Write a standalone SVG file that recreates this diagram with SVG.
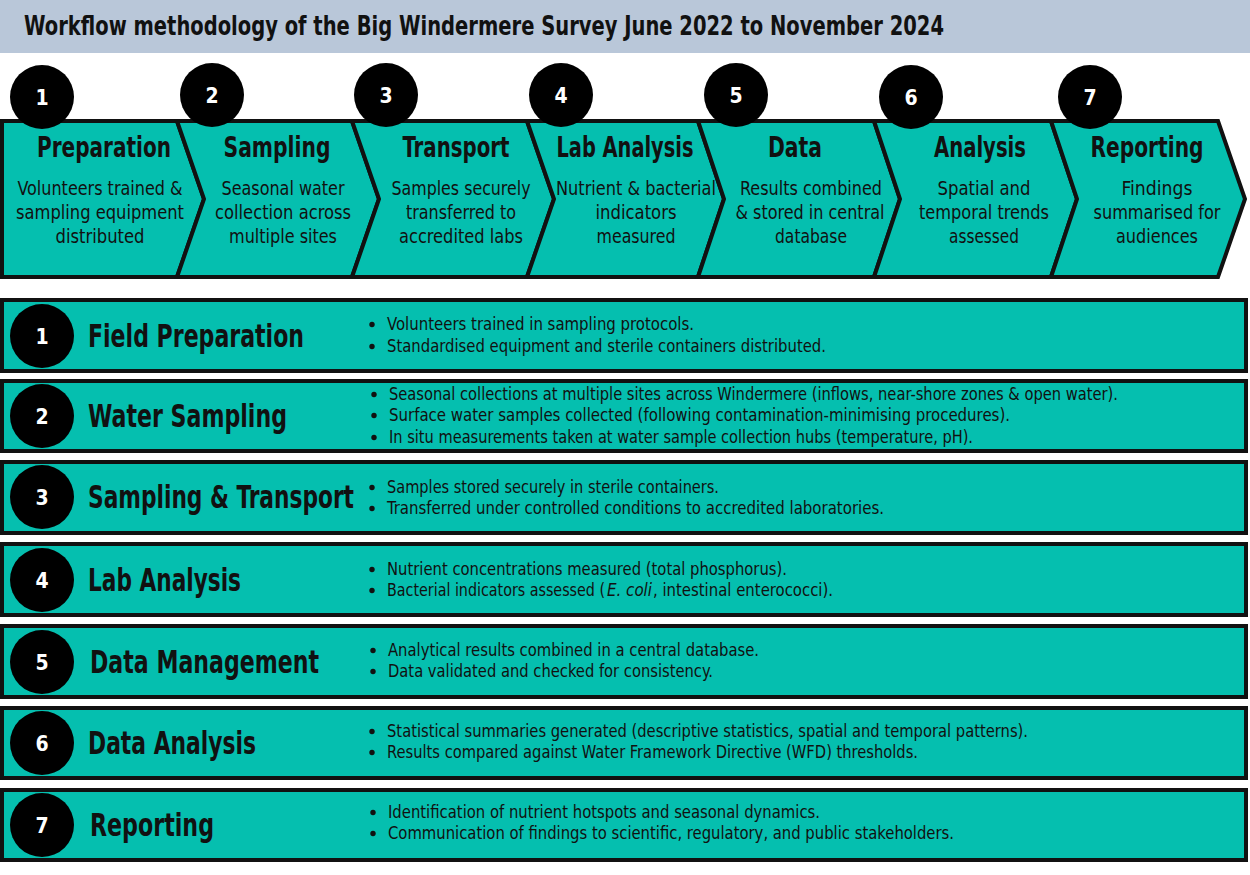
<svg xmlns="http://www.w3.org/2000/svg" width="1250" height="875" viewBox="0 0 1250 875">
<style>
text{font-family:"Liberation Sans Narrow","DejaVu Sans Condensed","Liberation Sans",sans-serif;fill:#111;}
.title{font-size:26px;font-weight:bold;}
.chev{fill:#05bfaf;stroke:#111;stroke-width:4;stroke-linejoin:miter;}
.ct{font-size:29px;font-weight:bold;text-anchor:middle;}
.cd{font-size:19.5px;text-anchor:middle;}
.num{fill:#fff;font-size:21px;font-weight:bold;text-anchor:middle;}
.row{fill:#05bfaf;stroke:#111;stroke-width:4;}
.rt{font-size:32px;font-weight:bold;}
.bl{font-size:17.5px;}
.it{font-style:italic;}
.circ{fill:#000;}
.dot{fill:#111;}
</style>
<rect x="0" y="0" width="1250" height="53" fill="#b9c7d9"/>
<text class="title" x="24" y="35" textLength="920" lengthAdjust="spacingAndGlyphs">Workflow methodology of the Big Windermere Survey June 2022 to November 2024</text>

<g id="chevrons">
<g id="step1">
<polygon class="chev" points="2,121 177,121 204,199 177,277 2,277"/>
<circle class="circ" cx="42" cy="97" r="32"/>
<text class="num" x="42" y="105">1</text>
<text class="ct" x="104" y="157" textLength="134" lengthAdjust="spacingAndGlyphs">Preparation</text>
<text class="cd" x="100" y="195" textLength="165" lengthAdjust="spacingAndGlyphs">Volunteers trained &amp;</text>
<text class="cd" x="100" y="219" textLength="168" lengthAdjust="spacingAndGlyphs">sampling equipment</text>
<text class="cd" x="100" y="243" textLength="89" lengthAdjust="spacingAndGlyphs">distributed</text>
</g>
<g id="step2">
<polygon class="chev" points="177,121 352,121 379,199 352,277 177,277 204,199"/>
<circle class="circ" cx="212" cy="95" r="32"/>
<text class="num" x="212" y="103">2</text>
<text class="ct" x="277" y="157" textLength="107" lengthAdjust="spacingAndGlyphs">Sampling</text>
<text class="cd" x="283" y="195" textLength="123" lengthAdjust="spacingAndGlyphs">Seasonal water</text>
<text class="cd" x="283" y="219" textLength="136" lengthAdjust="spacingAndGlyphs">collection across</text>
<text class="cd" x="283" y="243" textLength="108" lengthAdjust="spacingAndGlyphs">multiple sites</text>
</g>
<g id="step3">
<polygon class="chev" points="352,121 527,121 554,199 527,277 352,277 379,199"/>
<circle class="circ" cx="386" cy="95" r="32"/>
<text class="num" x="386" y="103">3</text>
<text class="ct" x="456" y="157" textLength="107" lengthAdjust="spacingAndGlyphs">Transport</text>
<text class="cd" x="461" y="195" textLength="139" lengthAdjust="spacingAndGlyphs">Samples securely</text>
<text class="cd" x="461" y="219" textLength="110" lengthAdjust="spacingAndGlyphs">transferred to</text>
<text class="cd" x="461" y="243" textLength="124" lengthAdjust="spacingAndGlyphs">accredited labs</text>
</g>
<g id="step4">
<polygon class="chev" points="527,121 698,121 724,199 698,277 527,277 554,199"/>
<circle class="circ" cx="561" cy="95" r="32"/>
<text class="num" x="561" y="103">4</text>
<text class="ct" x="625" y="157" textLength="137" lengthAdjust="spacingAndGlyphs">Lab Analysis</text>
<text class="cd" x="636" y="195" textLength="160" lengthAdjust="spacingAndGlyphs">Nutrient &amp; bacterial</text>
<text class="cd" x="636" y="219" textLength="81" lengthAdjust="spacingAndGlyphs">indicators</text>
<text class="cd" x="636" y="243" textLength="79" lengthAdjust="spacingAndGlyphs">measured</text>
</g>
<g id="step5">
<polygon class="chev" points="698,121 874,121 900,199 874,277 698,277 724,199"/>
<circle class="circ" cx="736" cy="95" r="32"/>
<text class="num" x="736" y="103">5</text>
<text class="ct" x="795" y="157" textLength="54" lengthAdjust="spacingAndGlyphs">Data</text>
<text class="cd" x="811" y="195" textLength="142" lengthAdjust="spacingAndGlyphs">Results combined</text>
<text class="cd" x="810" y="219" textLength="149" lengthAdjust="spacingAndGlyphs">&amp; stored in central</text>
<text class="cd" x="811" y="243" textLength="72" lengthAdjust="spacingAndGlyphs">database</text>
</g>
<g id="step6">
<polygon class="chev" points="874,121 1051,121 1077,199 1051,277 874,277 900,199"/>
<circle class="circ" cx="911" cy="97" r="32"/>
<text class="num" x="911" y="105">6</text>
<text class="ct" x="980" y="157" textLength="92" lengthAdjust="spacingAndGlyphs">Analysis</text>
<text class="cd" x="984" y="195" textLength="93" lengthAdjust="spacingAndGlyphs">Spatial and</text>
<text class="cd" x="984" y="219" textLength="130" lengthAdjust="spacingAndGlyphs">temporal trends</text>
<text class="cd" x="984" y="243" textLength="70" lengthAdjust="spacingAndGlyphs">assessed</text>
</g>
<g id="step7">
<polygon class="chev" points="1051,121 1218,121 1245,199 1218,277 1051,277 1077,199"/>
<circle class="circ" cx="1090" cy="97" r="32"/>
<text class="num" x="1090" y="105">7</text>
<text class="ct" x="1147" y="157" textLength="113" lengthAdjust="spacingAndGlyphs">Reporting</text>
<text class="cd" x="1157" y="195" textLength="71" lengthAdjust="spacingAndGlyphs">Findings</text>
<text class="cd" x="1157" y="219" textLength="127" lengthAdjust="spacingAndGlyphs">summarised for</text>
<text class="cd" x="1157" y="243" textLength="82" lengthAdjust="spacingAndGlyphs">audiences</text>
</g>
</g>

<g id="rows">
<g id="row1">
<rect class="row" x="2" y="300" width="1244" height="71"/>
<circle class="circ" cx="42" cy="336" r="32"/>
<text class="num" x="42" y="344">1</text>
<text class="rt" x="88" y="347" textLength="216" lengthAdjust="spacingAndGlyphs">Field Preparation</text>
<circle class="dot" cx="372" cy="324.5" r="2.7"/><text class="bl" x="387" y="330" textLength="307" lengthAdjust="spacingAndGlyphs">Volunteers trained in sampling protocols.</text>
<circle class="dot" cx="372" cy="346.5" r="2.7"/><text class="bl" x="387" y="352" textLength="439" lengthAdjust="spacingAndGlyphs">Standardised equipment and sterile containers distributed.</text>
</g>
<g id="row2">
<rect class="row" x="2" y="381" width="1244" height="70"/>
<circle class="circ" cx="42" cy="416" r="32"/>
<text class="num" x="42" y="424">2</text>
<text class="rt" x="88" y="427" textLength="199" lengthAdjust="spacingAndGlyphs">Water Sampling</text>
<circle class="dot" cx="374" cy="394.5" r="2.7"/><text class="bl" x="389" y="400" textLength="729" lengthAdjust="spacingAndGlyphs">Seasonal collections at multiple sites across Windermere (inflows, near-shore zones &amp; open water).</text>
<circle class="dot" cx="374" cy="415.5" r="2.7"/><text class="bl" x="389" y="421" textLength="621" lengthAdjust="spacingAndGlyphs">Surface water samples collected (following contamination-minimising procedures).</text>
<circle class="dot" cx="374" cy="437.5" r="2.7"/><text class="bl" x="389" y="443" textLength="584" lengthAdjust="spacingAndGlyphs">In situ measurements taken at water sample collection hubs (temperature, pH).</text>
</g>
<g id="row3">
<rect class="row" x="2" y="462" width="1244" height="71"/>
<circle class="circ" cx="42" cy="497" r="32"/>
<text class="num" x="42" y="505">3</text>
<text class="rt" x="88" y="508" textLength="266" lengthAdjust="spacingAndGlyphs">Sampling &amp; Transport</text>
<circle class="dot" cx="372" cy="487.5" r="2.7"/><text class="bl" x="387" y="493" textLength="332" lengthAdjust="spacingAndGlyphs">Samples stored securely in sterile containers.</text>
<circle class="dot" cx="372" cy="508.5" r="2.7"/><text class="bl" x="387" y="514" textLength="497" lengthAdjust="spacingAndGlyphs">Transferred under controlled conditions to accredited laboratories.</text>
</g>
<g id="row4">
<rect class="row" x="2" y="544" width="1244" height="71"/>
<circle class="circ" cx="42" cy="580" r="32"/>
<text class="num" x="42" y="588">4</text>
<text class="rt" x="88" y="591" textLength="153" lengthAdjust="spacingAndGlyphs">Lab Analysis</text>
<circle class="dot" cx="372" cy="569.5" r="2.7"/><text class="bl" x="387" y="575" textLength="400" lengthAdjust="spacingAndGlyphs">Nutrient concentrations measured (total phosphorus).</text>
<circle class="dot" cx="372" cy="590.5" r="2.7"/><text class="bl" x="387" y="596" textLength="218" lengthAdjust="spacingAndGlyphs">Bacterial indicators assessed (</text><text class="bl it" x="607" y="596" textLength="45" lengthAdjust="spacingAndGlyphs">E. coli</text><text class="bl" x="653" y="596" textLength="180" lengthAdjust="spacingAndGlyphs">, intestinal enterococci).</text>
</g>
<g id="row5">
<rect class="row" x="2" y="626" width="1244" height="71"/>
<circle class="circ" cx="42" cy="662" r="32"/>
<text class="num" x="42" y="670">5</text>
<text class="rt" x="90" y="673" textLength="229" lengthAdjust="spacingAndGlyphs">Data Management</text>
<circle class="dot" cx="373" cy="650.5" r="2.7"/><text class="bl" x="388" y="656" textLength="371" lengthAdjust="spacingAndGlyphs">Analytical results combined in a central database.</text>
<circle class="dot" cx="373" cy="671.5" r="2.7"/><text class="bl" x="388" y="677" textLength="325" lengthAdjust="spacingAndGlyphs">Data validated and checked for consistency.</text>
</g>
<g id="row6">
<rect class="row" x="2" y="708" width="1244" height="70"/>
<circle class="circ" cx="42" cy="743" r="32"/>
<text class="num" x="42" y="751">6</text>
<text class="rt" x="88" y="754" textLength="168" lengthAdjust="spacingAndGlyphs">Data Analysis</text>
<circle class="dot" cx="372" cy="731.5" r="2.7"/><text class="bl" x="387" y="737" textLength="641" lengthAdjust="spacingAndGlyphs">Statistical summaries generated (descriptive statistics, spatial and temporal patterns).</text>
<circle class="dot" cx="372" cy="752.5" r="2.7"/><text class="bl" x="387" y="758" textLength="531" lengthAdjust="spacingAndGlyphs">Results compared against Water Framework Directive (WFD) thresholds.</text>
</g>
<g id="row7">
<rect class="row" x="2" y="790" width="1244" height="70"/>
<circle class="circ" cx="42" cy="825" r="32"/>
<text class="num" x="42" y="833">7</text>
<text class="rt" x="90" y="836" textLength="124" lengthAdjust="spacingAndGlyphs">Reporting</text>
<circle class="dot" cx="373" cy="812.5" r="2.7"/><text class="bl" x="388" y="818" textLength="432" lengthAdjust="spacingAndGlyphs">Identification of nutrient hotspots and seasonal dynamics.</text>
<circle class="dot" cx="373" cy="833.5" r="2.7"/><text class="bl" x="388" y="839" textLength="566" lengthAdjust="spacingAndGlyphs">Communication of findings to scientific, regulatory, and public stakeholders.</text>
</g>
</g>
</svg>
